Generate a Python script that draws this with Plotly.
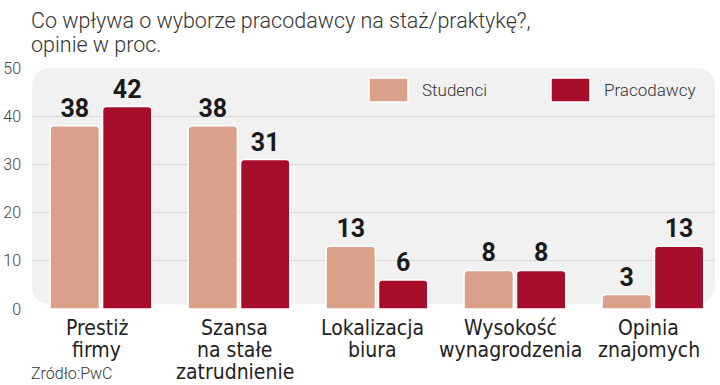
import plotly.graph_objects as go

categories = ["Prestiż<br>firmy", "Szansa<br>na stałe<br>zatrudnienie", "Lokalizacja<br>biura",
              "Wysokość<br>wynagrodzenia", "Opinia<br>znajomych"]
studenci = [38, 38, 13, 8, 3]
pracodawcy = [42, 31, 6, 8, 13]
series_names = ["Studenci", "Pracodawcy"]
y_ticks = [0, 10, 20, 30, 40, 50]

C_STUD = "#dba08a"
C_PRAC = "#a50d2a"

W, H = 720, 385
ML, MR, MT, MB = 32, 5, 68, 76
pw, ph = W - ML - MR, H - MT - MB

xs = list(range(len(categories)))


def px2x(p):
    return (p - ML) / pw


def py2y(p):
    return 1 - (p - MT) / ph


fig = go.Figure()
for name, vals, col in [(series_names[0], studenci, C_STUD), (series_names[1], pracodawcy, C_PRAC)]:
    fig.add_trace(go.Bar(
        x=xs, y=vals, name=name,
        marker=dict(color=col, line=dict(color="white", width=1.5), cornerradius=4),
        text=[str(v) for v in vals], textposition="outside",
        textfont=dict(family="Roboto", size=25, color="#1a1a1a", weight="bold"),
        cliponaxis=False, showlegend=False, hoverinfo="skip",
    ))

# rounded plot background
r = 20
rx, ry = r / pw, r / ph
x0, x1, y0, y1 = 0, 1, py2y(304), 1
path = (f"M {x0+rx},{y0} L {x1-rx},{y0} Q {x1},{y0} {x1},{y0+ry} "
        f"L {x1},{y1-ry} Q {x1},{y1} {x1-rx},{y1} L {x0+rx},{y1} Q {x0},{y1} {x0},{y1-ry} "
        f"L {x0},{y0+ry} Q {x0},{y0} {x0+rx},{y0} Z")
shapes = [dict(type="path", path=path, xref="paper", yref="paper",
               fillcolor="#f1f1f1", line=dict(width=0), layer="below")]

annotations = []
# legend (manual)
for (sx0, sx1, tx, col, name) in [(369, 408, 420, C_STUD, series_names[0]),
                                  (551, 590, 602, C_PRAC, series_names[1])]:
    shapes.append(dict(type="rect", xref="paper", yref="paper",
                       x0=px2x(sx0), x1=px2x(sx1), y0=py2y(102), y1=py2y(78),
                       fillcolor=col, line=dict(color="white", width=1.5), layer="above"))
    annotations.append(dict(text=name, xref="paper", yref="paper", x=px2x(tx), y=py2y(90),
                            xanchor="left", yanchor="middle", showarrow=False,
                            font=dict(family="Roboto", size=17, color="#333333", weight=300)))

# category labels (one annotation per line, placed on the x axis scale)
line_y = [328, 350, 372]
for xi, lab in zip(xs, categories):
    for k, part in enumerate(lab.split("<br>")):
        annotations.append(dict(text=part, xref="x", yref="paper", x=xi - 0.03, y=py2y(line_y[k]),
                                xanchor="center", yanchor="middle", showarrow=False,
                                font=dict(family="DejaVu Sans Condensed", size=21, color="#222222")))

title_lines = ["Co wpływa o wyborze pracodawcy na staż/praktykę?,", "opinie w proc."]
for k, t in enumerate(title_lines):
    annotations.append(dict(text=t, xref="paper", yref="paper", x=px2x(29), y=py2y(20 + 25 * k),
                            xanchor="left", yanchor="middle", showarrow=False,
                            font=dict(family="Roboto", size=21.5, color="#333333", weight=300)))
annotations.append(dict(text="Zródło:PwC", xref="paper", yref="paper", x=px2x(29), y=py2y(373),
                        xanchor="left", yanchor="middle", showarrow=False,
                        font=dict(family="Roboto", size=16, color="#333333", weight=300)))

fig.update_layout(
    width=W, height=H,
    margin=dict(l=ML, r=MR, t=MT, b=MB, autoexpand=False),
    paper_bgcolor="white", plot_bgcolor="rgba(0,0,0,0)",
    barmode="group", bargap=0.24, bargroupgap=0.06,
    shapes=shapes, annotations=annotations,
    showlegend=False, hovermode=False,
)
fig.update_xaxes(range=[-0.5, 4.45], tickvals=xs, showticklabels=False, showgrid=False,
                 zeroline=False, showline=False, ticks="", automargin=False)
fig.update_yaxes(range=[0, 50], tickvals=y_ticks, showgrid=True, gridcolor="#d6d6d6", gridwidth=1,
                 zeroline=False, showline=False, ticks="", ticklabelstandoff=10, automargin=False,
                 tickfont=dict(family="Roboto", size=16, color="#444444", weight=300))

fig.write_html("out.html", config={"displayModeBar": False},
               post_script="document.body.style.margin='0';document.body.style.overflow='hidden';")
